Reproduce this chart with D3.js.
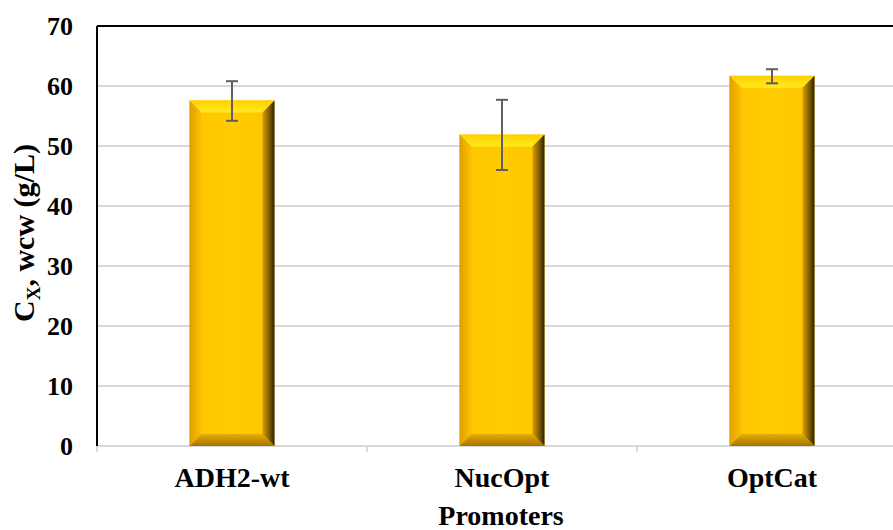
<!DOCTYPE html>
<html>
<head>
<meta charset="utf-8">
<script src="https://cdn.jsdelivr.net/npm/d3@7"></script>
<style>
  body { margin: 0; background: #fff; }
  text { font-family: "Liberation Serif", "Times New Roman", serif; font-weight: bold; fill: #000; }
</style>
</head>
<body>
<div id="chart"></div>
<script>
var categories = ["ADH2-wt", "NucOpt", "OptCat"];
var values = [57.6, 51.9, 61.7];
var errLow = [54.2, 46.0, 60.45];
var errHigh = [60.8, 57.7, 62.8];
var yTicks = [0, 10, 20, 30, 40, 50, 60, 70];

var W = 893, H = 530;
var margin = { top: 26, left: 97 };
var plotW = 810, plotH = 420;

var svg = d3.select("#chart").append("svg")
  .attr("width", W).attr("height", H);

var defs = svg.append("defs");
function grad(id, x2, y2, stops) {
  var g = defs.append("linearGradient").attr("id", id)
    .attr("x1", 0).attr("y1", 0).attr("x2", x2).attr("y2", y2);
  stops.forEach(function (s) {
    g.append("stop").attr("offset", s[0]).attr("stop-color", s[1]);
  });
}
grad("gFace", 1, 0, [[0, "#ffc400"], [0.5, "#ffcc00"], [1, "#ffc400"]]);
grad("gTop", 0, 1, [[0, "#ffd000"], [1, "#ffea20"]]);
grad("gLeft", 1, 0, [[0, "#e0a000"], [1, "#ffc000"]]);
grad("gRight", 1, 0, [[0, "#d89e00"], [0.6, "#7a5a00"], [1, "#2a2000"]]);
grad("gBottom", 0, 1, [[0, "#e8ae00"], [1, "#a07400"]]);

var g = svg.append("g").attr("transform", "translate(" + margin.left + "," + margin.top + ")");

var x = d3.scaleBand().domain(categories).range([0, plotW]).paddingInner(0).paddingOuter(0);
var y = d3.scaleLinear().domain([0, 70]).range([plotH, 0]);

// gridlines
g.selectAll(".grid").data(yTicks.filter(function (d) { return d > 0 && d < 70; }))
  .enter().append("line")
  .attr("x1", 0).attr("x2", plotW)
  .attr("y1", function (d) { return y(d); }).attr("y2", function (d) { return y(d); })
  .attr("stroke", "#d9d9d9").attr("stroke-width", 2);

// top border
g.append("line").attr("x1", 0).attr("x2", plotW).attr("y1", 0).attr("y2", 0)
  .attr("stroke", "#000").attr("stroke-width", 2);

// x axis
g.append("line").attr("x1", 0).attr("x2", plotW).attr("y1", plotH).attr("y2", plotH)
  .attr("stroke", "#d9d9d9").attr("stroke-width", 2);
var bounds = categories.map(function (c) { return x(c); }).concat([plotW]);
g.selectAll(".xtick").data(bounds).enter().append("line")
  .attr("x1", function (d) { return d; }).attr("x2", function (d) { return d; })
  .attr("y1", plotH).attr("y2", plotH + 6)
  .attr("stroke", "#d9d9d9").attr("stroke-width", 2);

// y axis
g.append("line").attr("x1", 0).attr("x2", 0).attr("y1", 0).attr("y2", plotH)
  .attr("stroke", "#000").attr("stroke-width", 2);

g.selectAll(".ylab").data(yTicks).enter().append("text")
  .attr("x", -24).attr("y", function (d) { return y(d); })
  .attr("dy", "0.33em").attr("text-anchor", "end")
  .style("font-size", "26px")
  .text(function (d) { return d; });

// bars with bevel
var bw = 85, bev = 12;
var bars = g.selectAll(".bar").data(values).enter().append("g")
  .attr("transform", function (d, i) {
    return "translate(" + (x(categories[i]) + x.bandwidth() / 2 - bw / 2) + ",0)";
  });
bars.append("rect")
  .attr("x", 0).attr("width", bw)
  .attr("y", function (d) { return y(d); })
  .attr("height", function (d) { return plotH - y(d); })
  .attr("fill", "url(#gFace)");
function poly(sel, fill, fn) {
  sel.append("polygon").attr("fill", fill)
    .attr("points", function (d) {
      var t = y(d), b = plotH;
      return fn(t, b).map(function (p) { return p.join(","); }).join(" ");
    });
}
poly(bars, "url(#gTop)", function (t, b) { return [[0, t], [bw, t], [bw - bev, t + bev], [bev, t + bev]]; });
poly(bars, "url(#gLeft)", function (t, b) { return [[0, t], [bev, t + bev], [bev, b - bev], [0, b]]; });
poly(bars, "url(#gRight)", function (t, b) { return [[bw, t], [bw, b], [bw - bev, b - bev], [bw - bev, t + bev]]; });
poly(bars, "url(#gBottom)", function (t, b) { return [[0, b], [bev, b - bev], [bw - bev, b - bev], [bw, b]]; });

// error bars
var cx = function (i) { return x(categories[i]) + x.bandwidth() / 2; };
var eb = g.selectAll(".err").data(values).enter().append("g")
  .attr("stroke", "#5f5f5f").attr("stroke-width", 2);
eb.append("line")
  .attr("x1", function (d, i) { return cx(i); }).attr("x2", function (d, i) { return cx(i); })
  .attr("y1", function (d, i) { return y(errLow[i]); }).attr("y2", function (d, i) { return y(errHigh[i]); });
eb.append("line")
  .attr("x1", function (d, i) { return cx(i) - 6; }).attr("x2", function (d, i) { return cx(i) + 6; })
  .attr("y1", function (d, i) { return y(errHigh[i]); }).attr("y2", function (d, i) { return y(errHigh[i]); });
eb.append("line")
  .attr("x1", function (d, i) { return cx(i) - 6; }).attr("x2", function (d, i) { return cx(i) + 6; })
  .attr("y1", function (d, i) { return y(errLow[i]); }).attr("y2", function (d, i) { return y(errLow[i]); });

// x labels
g.selectAll(".xlab").data(categories).enter().append("text")
  .attr("x", function (d) { return x(d) + x.bandwidth() / 2; })
  .attr("y", plotH + 41)
  .attr("text-anchor", "middle")
  .style("font-size", "28px")
  .text(function (d) { return d; });

svg.append("text")
  .attr("x", 501).attr("y", 525)
  .attr("text-anchor", "middle")
  .style("font-size", "28px")
  .text("Promoters");

// y title
var yt = svg.append("text")
  .attr("transform", "translate(34,322) rotate(-90)")
  .attr("text-anchor", "start")
  .style("font-size", "30px");
yt.append("tspan").text("C");
yt.append("tspan").attr("dy", 6).style("font-size", "19px").text("X");
yt.append("tspan").attr("dy", -6).text(", wcw (g/L)");
</script>
</body>
</html>
